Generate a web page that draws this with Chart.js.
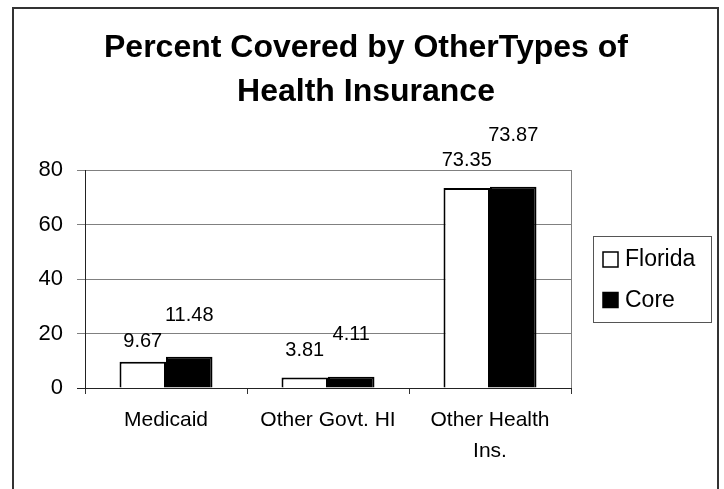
<!DOCTYPE html>
<html lang="en">
<head>
<meta charset="UTF-8">
<title>Percent Covered by Other Types of Health Insurance</title>
<script src="https://cdn.jsdelivr.net/npm/chart.js"></script>
<style>
  html, body { margin: 0; padding: 0; background: #fff; overflow: hidden; }
  #frame { position: absolute; left: 12px; top: 7px; width: 703px; height: 500px; border: 2px solid #333; }
  #wrap { position: absolute; left: 0; top: 0; width: 724px; height: 489px; }
</style>
</head>
<body>
<div id="frame"></div>
<div id="wrap"><canvas id="chart" width="724" height="489"></canvas></div>
<script>
const titleLines = ['Percent Covered by OtherTypes of', 'Health Insurance'];
const categories = ['Medicaid', 'Other Govt. HI', ['Other Health', 'Ins.']];
const floridaValues = [9.67, 3.81, 73.35];
const coreValues = [11.48, 4.11, 73.87];
const yTicks = [0, 20, 40, 60, 80];
// how far each value label floats above its bar (px)
const floridaLabelLift = [20, 27, 28];
const coreLabelLift = [41, 42, 51];

const FONT = "'Liberation Sans', Arial, sans-serif";

// two-line bold heading centred in the frame
const heading = {
  id: 'heading',
  afterDraw(chart) {
    const ctx = chart.ctx;
    ctx.save();
    ctx.font = 'bold 32px ' + FONT;
    ctx.fillStyle = '#000';
    ctx.textAlign = 'center';
    ctx.textBaseline = 'alphabetic';
    titleLines.forEach((line, i) => ctx.fillText(line, 366, 57 + i * 44));
    ctx.restore();
  }
};

// right edge of the plot area
const plotEdge = {
  id: 'plotEdge',
  beforeDatasetsDraw(chart) {
    const { ctx, chartArea: a } = chart;
    ctx.save();
    ctx.strokeStyle = '#808080';
    ctx.lineWidth = 1;
    ctx.beginPath();
    ctx.moveTo(a.right + 0.5, a.top);
    ctx.lineTo(a.right + 0.5, a.bottom);
    ctx.stroke();
    ctx.restore();
  }
};

// numbers above the bars
const valueLabels = {
  id: 'valueLabels',
  afterDatasetsDraw(chart) {
    const ctx = chart.ctx;
    ctx.save();
    ctx.font = '20px ' + FONT;
    ctx.fillStyle = '#000';
    ctx.textAlign = 'center';
    ctx.textBaseline = 'middle';
    chart.data.datasets.forEach((ds, i) => {
      chart.getDatasetMeta(i).data.forEach((bar, j) => {
        ctx.fillText(ds.data[j].toFixed(2), bar.x, bar.y - ds.lift[j]);
      });
    });
    ctx.restore();
  }
};

// boxed legend to the right of the plot
const boxLegend = {
  id: 'boxLegend',
  afterDraw(chart) {
    const { ctx, chartArea: a } = chart;
    const w = 118, h = 86;
    const left = a.right + 22;
    const top = Math.round((a.top + a.bottom) / 2 - h / 2);
    ctx.save();
    ctx.strokeStyle = '#555';
    ctx.lineWidth = 1;
    ctx.strokeRect(left + 0.5, top + 0.5, w, h);
    ctx.font = '23px ' + FONT;
    ctx.textBaseline = 'middle';
    ctx.textAlign = 'left';
    chart.data.datasets.forEach((ds, i) => {
      const cy = top + 24 + i * 40.5;
      ctx.fillStyle = ds.backgroundColor;
      ctx.fillRect(left + 10, cy - 8, 15, 15);
      ctx.strokeStyle = '#000';
      ctx.lineWidth = 1.5;
      ctx.strokeRect(left + 10, cy - 8, 15, 15);
      ctx.fillStyle = '#000';
      ctx.fillText(ds.label, left + 32, cy);
    });
    ctx.restore();
  }
};

new Chart(document.getElementById('chart'), {
  type: 'bar',
  data: {
    labels: categories,
    datasets: [
      { label: 'Florida', data: floridaValues, lift: floridaLabelLift,
        backgroundColor: '#fff', borderColor: '#000', borderWidth: 2 },
      { label: 'Core', data: coreValues, lift: coreLabelLift,
        backgroundColor: '#000', borderColor: '#000', borderWidth: 2 }
    ]
  },
  options: {
    responsive: false,
    animation: false,
    layout: { padding: { left: 0, right: 153, top: 170, bottom: 0 } },
    datasets: { bar: { categoryPercentage: 0.574, barPercentage: 1 } },
    plugins: {
      legend: { display: false },
      title: { display: false },
      tooltip: { enabled: false }
    },
    scales: {
      x: {
        grid: { drawOnChartArea: false, drawTicks: true, tickLength: 6, color: '#333' },
        border: { color: '#222', width: 1 },
        ticks: { color: '#000', font: { family: FONT, size: 21, lineHeight: 1.5 },
                 padding: 10, maxRotation: 0, autoSkip: false },
        afterFit: s => { s.height = 101; }
      },
      y: {
        min: 0,
        max: 80,
        afterBuildTicks: s => { s.ticks = yTicks.map(v => ({ value: v })); },
        grid: { color: c => (c.tick && c.tick.value === 0 ? '#222' : '#808080'), tickLength: 8 },
        border: { color: '#222', width: 1 },
        ticks: { color: '#000', font: { family: FONT, size: 22 }, padding: 14 },
        afterFit: s => { s.width = 85; }
      }
    }
  },
  plugins: [plotEdge, valueLabels, boxLegend, heading]
});
</script>
</body>
</html>
